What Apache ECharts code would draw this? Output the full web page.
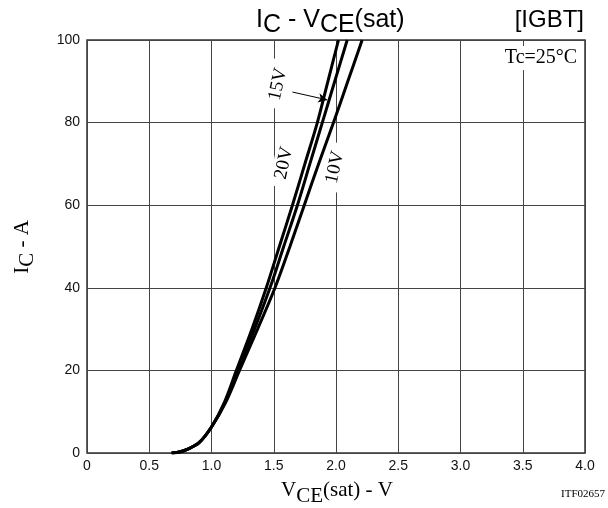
<!DOCTYPE html>
<html>
<head>
<meta charset="utf-8">
<script src="https://cdn.jsdelivr.net/npm/echarts@6/dist/echarts.min.js"></script>
<style>html,body{margin:0;padding:0;background:#fff;}#c{width:608px;height:508px;}</style>
</head>
<body>
<div id="c"></div>
<script>
// Collector current (A) sampled along each curve
const current = [0, 0.3, 0.8, 2.5, 6.3, 12, 20, 30, 40, 50, 60, 70, 80, 90, 100];
// VCE(sat) (V) for each gate voltage at those currents
const v20 = [0.68, 0.75, 0.8, 0.9, 1.0, 1.1, 1.2, 1.325, 1.44, 1.545, 1.65, 1.75, 1.85, 1.935, 2.02];
const v15 = [0.68, 0.75, 0.8, 0.9, 1.0, 1.105, 1.21, 1.345, 1.47, 1.58, 1.69, 1.79, 1.89, 1.99, 2.09];
const v10 = [0.68, 0.75, 0.8, 0.9, 1.0, 1.11, 1.225, 1.37, 1.51, 1.63, 1.745, 1.86, 1.98, 2.095, 2.21];
const seriesNames = ['20V', '15V', '10V'];
const xTicks = ['0', '0.5', '1.0', '1.5', '2.0', '2.5', '3.0', '3.5', '4.0'];
const yTicks = ['0', '20', '40', '60', '80', '100'];

function pairs(v) { return v.map((x, i) => [x, current[i]]); }

const chart = echarts.init(document.getElementById('c'), null, {renderer: 'canvas'});
const SANS = 'Liberation Sans, Arial, sans-serif';
const SERIF = 'Liberation Serif, Times New Roman, serif';
const lineCommon = {
  type: 'line', smooth: 0.35, symbol: 'none',
  lineStyle: {color: '#000', width: 3}, z: 5
};
chart.setOption({
  animation: false,
  backgroundColor: '#fff',
  grid: {left: 87, right: 23, top: 40, bottom: 55, show: true, borderColor: '#333', borderWidth: 1.5, backgroundColor: 'transparent'},
  xAxis: {
    type: 'value', min: 0, max: 4, interval: 0.5,
    axisLine: {show: false}, axisTick: {show: false},
    splitLine: {show: true, lineStyle: {color: '#444', width: 1}},
    axisLabel: {margin: 6, color: '#111', fontFamily: SANS, fontSize: 14,
      formatter: function (v) { return xTicks[Math.round(v / 0.5)]; }}
  },
  yAxis: {
    type: 'value', min: 0, max: 100, interval: 20,
    axisLine: {show: false}, axisTick: {show: false},
    splitLine: {show: true, lineStyle: {color: '#444', width: 1}},
    axisLabel: {margin: 7, color: '#111', fontFamily: SANS, fontSize: 14,
      formatter: function (v) { return yTicks[Math.round(v / 20)]; }}
  },
  series: [
    Object.assign({name: seriesNames[0], data: pairs(v20)}, lineCommon),
    Object.assign({name: seriesNames[1], data: pairs(v15),
      markLine: {silent: true, symbol: ['none', 'arrow'], symbolSize: [7, 9],
        lineStyle: {color: '#000', width: 1, type: 'solid'}, label: {show: false},
        data: [[{coord: [1.65, 87.4]}, {coord: [1.93, 85.5]}]]}}, lineCommon),
    Object.assign({name: seriesNames[2], data: pairs(v10)}, lineCommon)
  ]
});

// curve labels at data positions
const curveLabels = [
  {text: '15V', at: [1.534, 89.3]},
  {text: '20V', at: [1.582, 70.2]},
  {text: '10V', at: [1.992, 69.2]}
];
const graphics = [];
curveLabels.forEach(function (l) {
  const p = chart.convertToPixel({gridIndex: 0}, l.at);
  graphics.push({type: 'text', x: p[0], y: p[1], rotation: 78 * Math.PI / 180, z: 10,
    style: {text: l.text, font: '19px ' + SERIF, fill: '#000', align: 'center', verticalAlign: 'middle',
      backgroundColor: '#fff', padding: [2, 8, 0, 8]}});
});
graphics.push(
  {type: 'text', x: 256, y: 8, z: 10,
    style: {text: '{m|I}{s|C}{m| - V}{s|CE}{m|(sat)}', fill: '#000', verticalAlign: 'top',
      rich: {m: {font: '25px ' + SANS, lineHeight: 28, verticalAlign: 'top', fill: '#000'},
             s: {font: '25px ' + SANS, lineHeight: 28, verticalAlign: 'top', padding: [5, 0, 0, 0], fill: '#000'}}}},
  {type: 'text', x: 584, y: 8, z: 10,
    style: {text: '[IGBT]', font: '24px ' + SANS, fill: '#000', align: 'right', verticalAlign: 'top'}},
  {type: 'text', x: 541, y: 58, z: 10,
    style: {text: 'Tc=25°C', font: '20px ' + SERIF, fill: '#000', align: 'center', verticalAlign: 'middle',
      backgroundColor: '#fff', padding: [2, 1, 2, 1]}},
  {type: 'text', x: 24, y: 247, rotation: Math.PI / 2, z: 10,
    style: {text: '{m|I}{s|C}{m| - A}', fill: '#000', align: 'center', verticalAlign: 'middle',
      rich: {m: {font: '21px ' + SERIF, lineHeight: 24, verticalAlign: 'top', fill: '#000'},
             s: {font: '21px ' + SERIF, lineHeight: 24, verticalAlign: 'top', padding: [5, 0, 0, 0], fill: '#000'}}}},
  {type: 'text', x: 337, y: 492, z: 10,
    style: {text: '{m|V}{s|CE}{m|(sat) - V}', fill: '#000', align: 'center', verticalAlign: 'middle',
      rich: {m: {font: '21px ' + SERIF, lineHeight: 24, verticalAlign: 'top', fill: '#000'},
             s: {font: '21px ' + SERIF, lineHeight: 24, verticalAlign: 'top', padding: [6, 0, 0, 0], fill: '#000'}}}},
  {type: 'text', x: 605, y: 494, z: 10,
    style: {text: 'ITF02657', font: '11px ' + SERIF, fill: '#000', align: 'right', verticalAlign: 'middle'}}
);
chart.setOption({graphic: graphics});
</script>
</body>
</html>
